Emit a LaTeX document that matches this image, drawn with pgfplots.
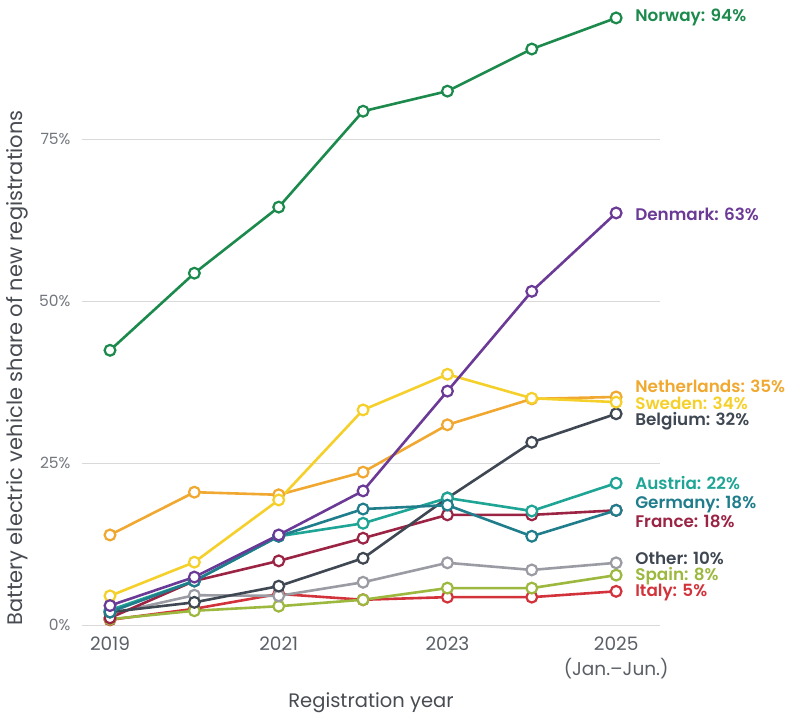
\documentclass[border=0pt]{standalone}
\usepackage{pgfplots}
\pgfplotsset{compat=1.18}
\usepackage{fontspec}
\setmainfont{Poppins}[BoldFont={Poppins SemiBold}]
\definecolor{cNor}{HTML}{1B8A4C}
\definecolor{cDen}{HTML}{6B3A96}
\definecolor{cNet}{HTML}{F0A830}
\definecolor{cSwe}{HTML}{F6D02A}
\definecolor{cBel}{HTML}{3F4752}
\definecolor{cAut}{HTML}{1FA595}
\definecolor{cGer}{HTML}{1F7D8C}
\definecolor{cFra}{HTML}{9B2445}
\definecolor{cOth}{HTML}{9A9BA3}
\definecolor{cSpa}{HTML}{9CB83E}
\definecolor{cIta}{HTML}{D2323A}
\definecolor{tickgray}{HTML}{5A5F66}
\begin{document}
\begin{tikzpicture}
\useasboundingbox (0pt,0pt) rectangle (800pt,-721pt);
\begin{axis}[
  at={(82pt,-625pt)}, anchor=south west,
  scale only axis, width=578pt, height=622pt,
  xmin=2018.668, xmax=2025.52, ymin=0, ymax=96,
  axis x line=bottom, axis y line=left,
  axis line style={draw=none},
  tick style={draw=none},
  clip=false,
  xtick={2019,2021,2023,2025},
  xticklabels={2019,2021,2023,{2025\\(Jan.–Jun.)}},
  xticklabel style={align=center, font=\fontsize{18.5}{25}\selectfont, text=tickgray, anchor=north, yshift=-8pt},
  ytick={0,25,50,75},
  yticklabels={0\%,25\%,50\%,75\%},
  yticklabel style={font=\fontsize{15.5}{17}\selectfont, text=tickgray!85, anchor=east, xshift=-8pt},
  major tick length=0pt,
  every axis plot/.append style={line width=2.6pt, mark=*, mark size=5.4pt, mark options={fill=white, line width=2.2pt}},
]
\draw[color=black!15, line width=1pt] (axis cs:2018.668,0) -- (axis cs:2025.52,0);
\draw[color=black!15, line width=1pt] (axis cs:2018.668,25) -- (axis cs:2025.52,25);
\draw[color=black!15, line width=1pt] (axis cs:2018.668,50) -- (axis cs:2025.52,50);
\draw[color=black!15, line width=1pt] (axis cs:2018.668,75) -- (axis cs:2025.52,75);
% Italy
\addplot[cIta] coordinates {(2019,0.8) (2020,2.5) (2021,4.8) (2022,3.9) (2023,4.3) (2024,4.3) (2025,5.2)};
% Spain
\addplot[cSpa] coordinates {(2019,0.9) (2020,2.2) (2021,2.9) (2022,3.9) (2023,5.7) (2024,5.7) (2025,7.7)};
% Other
\addplot[cOth] coordinates {(2019,1.7) (2020,4.6) (2021,4.5) (2022,6.6) (2023,9.6) (2024,8.5) (2025,9.6)};
% France
\addplot[cFra] coordinates {(2019,1.1) (2020,6.8) (2021,9.9) (2022,13.4) (2023,17.0) (2024,17.0) (2025,17.7)};
% Belgium
\addplot[cBel] coordinates {(2019,2.0) (2020,3.5) (2021,6.0) (2022,10.3) (2023,19.6) (2024,28.2) (2025,32.6)};
% Austria
\addplot[cAut] coordinates {(2019,2.3) (2020,6.8) (2021,13.7) (2022,15.7) (2023,19.6) (2024,17.6) (2025,21.9)};
% Germany
\addplot[cGer] coordinates {(2019,2.0) (2020,6.8) (2021,13.7) (2022,17.9) (2023,18.5) (2024,13.7) (2025,17.7)};
% Netherlands
\addplot[cNet] coordinates {(2019,13.9) (2020,20.5) (2021,20.1) (2022,23.6) (2023,30.9) (2024,34.9) (2025,35.2)};
% Sweden
\addplot[cSwe] coordinates {(2019,4.5) (2020,9.7) (2021,19.3) (2022,33.2) (2023,38.7) (2024,35.0) (2025,34.4)};
% Denmark
\addplot[cDen] coordinates {(2019,3.0) (2020,7.4) (2021,13.9) (2022,20.7) (2023,36.1) (2024,51.5) (2025,63.6)};
% Norway
\addplot[cNor] coordinates {(2019,42.4) (2020,54.3) (2021,64.5) (2022,79.3) (2023,82.4) (2024,88.9) (2025,93.7)};
\begin{scope}[every node/.style={anchor=west, font=\fontsize{16.8}{18}\selectfont\bfseries, inner sep=0pt}]
\node[text=cNor] at (axis cs:2025.225,93.7) {Norway: 94\%};
\node[text=cDen] at (axis cs:2025.225,63.4) {Denmark: 63\%};
\node[text=cNet] at (axis cs:2025.225,36.9) {Netherlands: 35\%};
\node[text=cSwe] at (axis cs:2025.225,34.2) {Sweden: 34\%};
\node[text=cBel] at (axis cs:2025.225,31.4) {Belgium: 32\%};
\node[text=cAut] at (axis cs:2025.225,21.9) {Austria: 22\%};
\node[text=cGer] at (axis cs:2025.225,18.6) {Germany: 18\%};
\node[text=cFra] at (axis cs:2025.225,16.0) {France: 18\%};
\node[text=cBel] at (axis cs:2025.225,10.3) {Other: 10\%};
\node[text=cSpa] at (axis cs:2025.225,7.6) {Spain: 8\%};
\node[text=cIta] at (axis cs:2025.225,5.0) {Italy: 5\%};
\end{scope}
\end{axis}
\node[font=\fontsize{19.5}{22}\selectfont, text=tickgray!80!black] at (371pt,-703pt) {Registration year};
\node[rotate=90, font=\fontsize{21}{24}\selectfont, text=tickgray!80!black] at (17pt,-368pt) {Battery electric vehicle share of new registrations};
\end{tikzpicture}
\end{document}
